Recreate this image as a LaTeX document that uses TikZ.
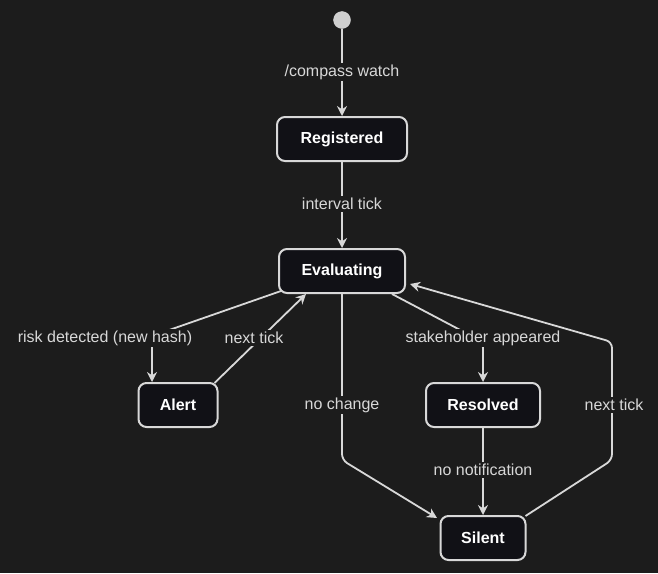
\documentclass[tikz,border=0pt]{standalone}
\usepackage{fontspec}
\setmainfont{Liberation Sans}
\usetikzlibrary{arrows.meta}
\definecolor{bg}{HTML}{1C1C1C}
\definecolor{nf}{HTML}{111116}
\definecolor{ln}{HTML}{D8D8D8}
\begin{document}
\begin{tikzpicture}[x=1pt,y=-1pt,
  st/.style={draw=ln,line width=2pt,fill=nf,rounded corners=8pt,text=white,font=\bfseries\fontsize{16}{19}\selectfont,minimum height=44pt,inner sep=0pt},
  lb/.style={fill=bg,text=ln,font=\fontsize{16}{19}\selectfont,inner sep=2pt},
  ar/.style={draw=ln,line width=1.8pt,-{Stealth[length=10pt,width=10pt]},rounded corners=6pt}]
\fill[bg] (0,0) rectangle (658,573);
\useasboundingbox (0,0) rectangle (658,573);
\node[circle,fill=ln!90!gray,draw=ln,minimum size=17pt,inner sep=0pt] (s) at (342,20) {};
\node[st,minimum width=130pt] (reg) at (342,139) {Registered};
\node[st,minimum width=126pt] (ev) at (342,271) {Evaluating};
\node[st,minimum width=79pt] (al) at (178,405) {Alert};
\node[st,minimum width=114pt] (re) at (483,405) {Resolved};
\node[st,minimum width=85pt] (si) at (483,538) {Silent};
\coordinate (c1) at (152,336);
\coordinate (c2) at (342,460);
\coordinate (c3) at (483,342);
\coordinate (c4) at (612,460);
\coordinate (c5) at (612,342);
\draw[ar] (s) -- (reg);
\draw[ar] (reg) -- (ev);
\draw[ar] (ev.south west) ++(3,-3) -- (c1) -- (152,382);
\draw[ar] (al.north east) ++(-4,1) -- (306,294);
\draw[ar] (342,294) -- (c2) -- (437,518);
\draw[ar] (392,294) -- (c3) -- (re.north);
\draw[ar] (re) -- (si);
\draw[ar] (si.north east) ++(-1,1) -- (c4) -- (c5) -- (410,284);
\node[lb] at (342,72) {/compass watch};
\node[lb] at (342,204) {interval tick};
\node[lb] at (105,338) {risk detected (new hash)};
\node[lb] at (254,338) {next tick};
\node[lb] at (342,405) {no change};
\node[lb] at (483,338) {stakeholder appeared};
\node[lb] at (483,470) {no notification};
\node[lb] at (614,405) {next tick};
\end{tikzpicture}
\end{document}
